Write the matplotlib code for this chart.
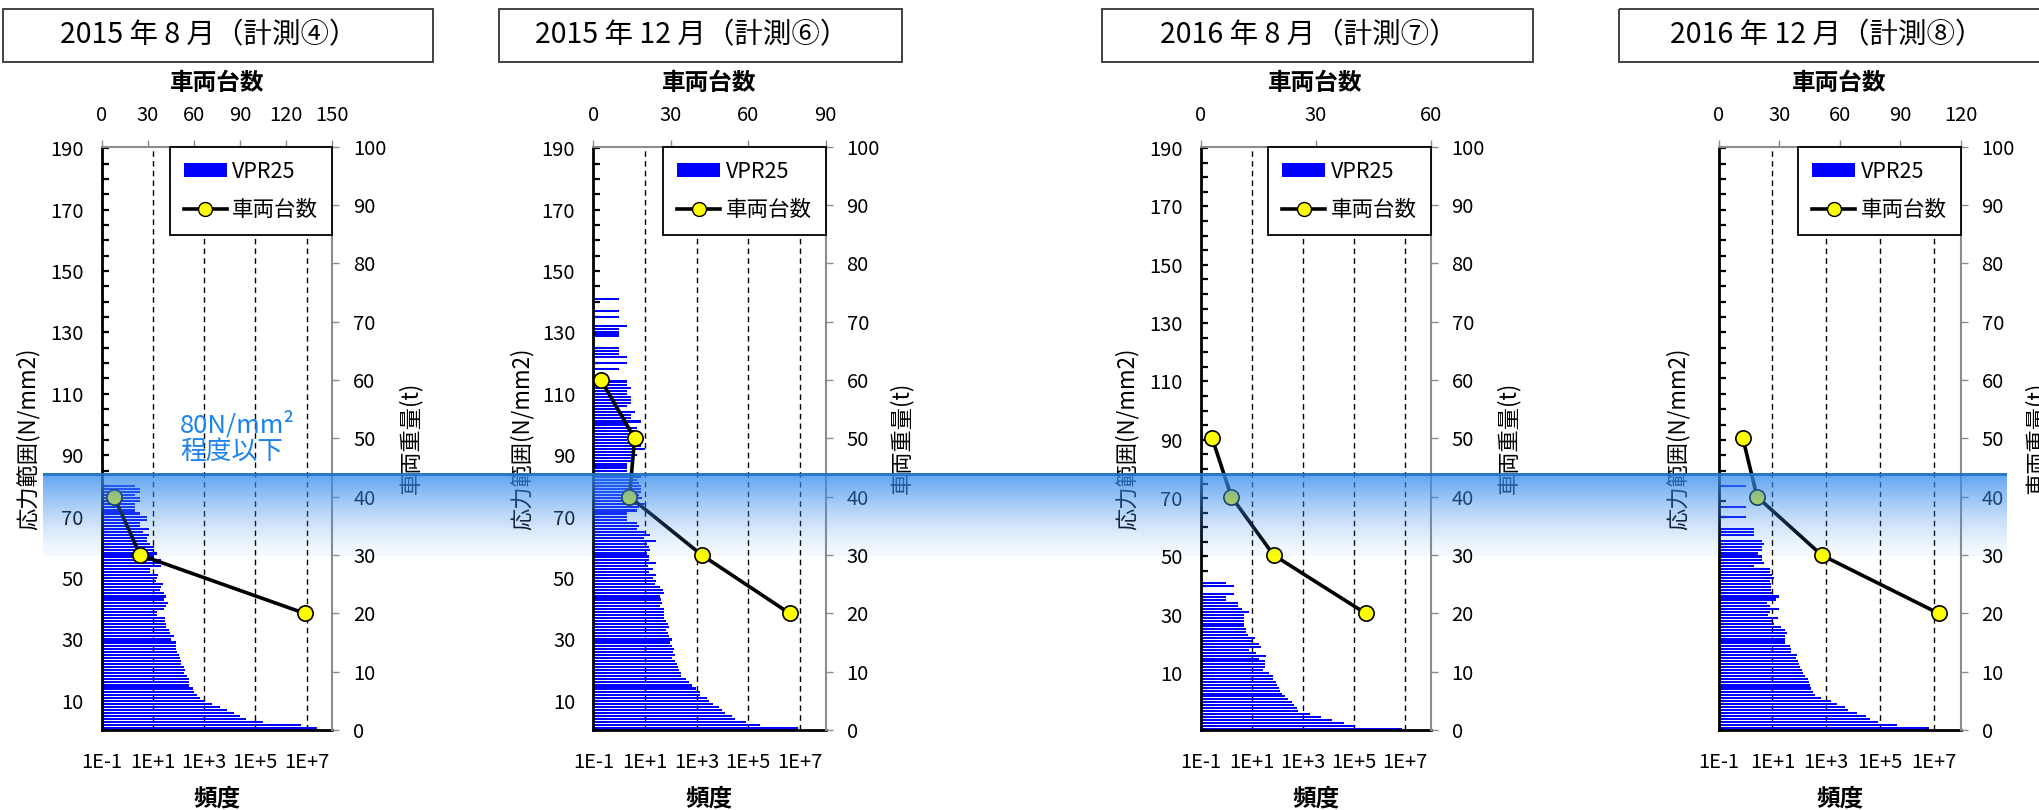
import numpy as np
import matplotlib.pyplot as plt
from matplotlib.patches import Patch, Rectangle
from matplotlib.lines import Line2D

plt.rcParams['font.family'] = ['Noto Sans CJK JP', 'DejaVu Sans']

# ---- data ----
titles = ["2015 年 8 月（計測④）", "2015 年 12 月（計測⑥）",
          "2016 年 8 月（計測⑦）", "2016 年 12 月（計測⑧）"]

# frequency per 1 N/mm2 stress class, from the bottom class upward (0 = no bar)
freq_2015_08 = [2.5e7, 5.8e6, 2.0e5, 4.1e4, 2.6e4, 1.4e4, 7600, 4000, 2000, 1100,
                660, 525, 390, 355, 245, 263, 251, 214, 158, 182,
                158, 126, 126, 117, 100, 87, 79, 83, 79, 51,
                65, 48, 44, 32, 31, 30, 30, 14, 15, 26,
                32, 40, 28, 32, 26, 19, 21, 25, 13, 14,
                16, 8, 8, 21, 21, 21, 11, 14, 11, 11,
                8, 6, 6, 7, 4, 7, 3, 3, 6, 6,
                3, 2, 2, 2, 3, 3, 2, 3, 3, 2]
freq_2015_12 = [8.5e6, 2.9e5, 7.9e4, 3.0e4, 2.3e4, 1.3e4, 9800, 7100, 4300, 3100,
                2500, 1400, 1300, 930, 650, 530, 400, 260, 250, 200,
                190, 175, 150, 115, 145, 120, 130, 115, 92, 110,
                82, 75, 66, 87, 75, 66, 53, 57, 57, 53,
                38, 47, 43, 38, 57, 50, 38, 25, 28, 21,
                27, 15, 21, 13, 26, 14, 15, 12, 16, 15,
                12, 26, 9, 16, 11, 5, 6, 5, 2, 2,
                2, 5, 6, 11, 3, 8, 6, 7, 7, 7,
                6, 5, 7, 4, 2, 2, 2, 3, 3, 5,
                4, 10, 7, 5, 2, 2, 5, 4, 5, 2,
                7, 3, 3, 4, 1, 2, 3, 3, 3, 2,
                2, 3, 2, 2, 0, 0, 0, 1, 0, 2,
                0, 2, 1, 1, 1, 0, 0, 0, 1, 1,
                1, 2, 0, 0, 1, 0, 1, 0, 0, 0,
                1]
freq_2016_08 = [7.8e6, 1.07e5, 4.0e4, 1.4e4, 4900, 1900, 660, 600, 450, 390,
                265, 195, 158, 126, 117, 93, 87, 69, 69, 48,
                28, 32, 32, 32, 19, 35, 15, 8, 23, 19,
                10, 13, 7, 6, 6, 5, 5, 5, 5, 5,
                8, 4, 3, 3, 1, 1, 2, 0, 0, 2, 1]
freq_2016_12 = [6.5e6, 4.2e5, 8.7e4, 4.3e4, 3.0e4, 1.4e4, 6300, 4800, 2600, 1500,
                620, 390, 320, 275, 240, 225, 210, 166, 135, 123,
                102, 96, 89, 76, 83, 47, 47, 43, 30, 30,
                30, 36, 30, 20, 11, 10, 16, 7, 8, 17,
                8, 6, 14, 17, 10, 9, 9, 9, 8, 11,
                10, 8, 8, 2, 5, 4, 4, 3, 4, 4,
                5, 4, 0, 2, 2, 2, 0, 0, 0, 1,
                0, 0, 1, 0, 0, 0, 0, 0, 0, 1]
freqs = [freq_2015_08, freq_2015_12, freq_2016_08, freq_2016_12]

# number of stress classes on each left axis
n_classes = [190, 190, 200, 190]

# vehicle weight (t) vs number of vehicles
weights = [[40, 30, 20], [60, 50, 40, 30, 20], [50, 40, 30, 20], [50, 40, 30, 20]]
vehicles = [[8, 25, 132], [3, 16, 14, 42, 76], [3, 8, 19, 43], [12, 19, 51, 109]]
vehicle_max = [150, 90, 60, 120]

stress_labels = [190, 170, 150, 130, 110, 90, 70, 50, 30, 10]
freq_ticks = [1e-1, 1e1, 1e3, 1e5, 1e7]
freq_labels = ["1E-1", "1E+1", "1E+3", "1E+5", "1E+7"]
weight_ticks = list(range(0, 101, 10))

# ---- layout (pixels of the 2040x810 image) ----
W, H = 2040, 810
plot_left = [101.7, 593.3, 1200.7, 1718.7]
plot_width = [230.6, 232.4, 230.0, 242.0]
plot_top, plot_bot = 146.7, 730.0
title_box = [(2.7, 433.3), (499.3, 901.7), (1102, 1533.3), (1619.3, 2050)]
title_cx = [209, 691.7, 1309, 1827]
ylab_left_x = [28, 521.7, 1126.7, 1678]
ylab_right_x = [410, 901.7, 1508, 2036.7]

fig = plt.figure(figsize=(W / 100, H / 100), dpi=100)
fig.patch.set_facecolor('white')

tick_fs = 14.5
grey = '#8c8c8c'

for i in range(4):
    rect = [plot_left[i] / W, 1 - plot_bot / H, plot_width[i] / W, (plot_bot - plot_top) / H]
    ax = fig.add_axes(rect)
    n = n_classes[i]
    f = np.array(freqs[i], dtype=float)
    pos = np.arange(1, len(f) + 1)
    keep = f > 0
    ax.barh(pos[keep], f[keep], height=0.7, color='#0000FF', linewidth=0, zorder=2)
    ax.set_xscale('log')
    ax.set_xlim(1e-1, 1e8)
    ax.set_ylim(0.5, n + 0.5)
    ax.set_xticks(freq_ticks)
    ax.set_xticklabels(freq_labels)
    ax.xaxis.set_minor_locator(plt.NullLocator())
    ax.grid(axis='x', which='major', color='black', linestyle=(0, (4, 3)), linewidth=1.0, zorder=1)
    ax.set_axisbelow(True)

    # labelled ticks every 20 classes, plain ticks every 5 classes (counted from the top)
    label_pos = [n - (190 - s) for s in stress_labels]
    ax.set_yticks(label_pos)
    if i != 3:
        ax.set_yticklabels([str(s) for s in stress_labels])
    else:
        ax.set_yticklabels([''] * len(stress_labels))
    ax.set_yticks([p for p in range(n, 0, -5) if p not in label_pos], minor=True)
    ax.tick_params(axis='y', which='both', direction='in', length=5, width=1.6, color='black')
    ax.tick_params(axis='y', which='major', labelsize=tick_fs, pad=13)
    ax.tick_params(axis='x', length=0, labelsize=tick_fs, pad=16)
    for s in ['top', 'right']:
        ax.spines[s].set_visible(False)
    for s in ['left', 'bottom']:
        ax.spines[s].set_linewidth(2.0)
        ax.spines[s].set_color('black')

    ax.text((ylab_left_x[i] - plot_left[i]) / plot_width[i], 0.5, '応力範囲(N/mm2)',
            transform=ax.transAxes, rotation=90, ha='center', va='center', fontsize=16)
    ax.text(0.5, (plot_bot - 798) / (plot_bot - plot_top), '頻度', transform=ax.transAxes,
            ha='center', va='center', fontsize=17, fontweight='bold')

    # secondary axes: number of vehicles (top) vs vehicle weight (right)
    ax2 = fig.add_axes(rect, facecolor='none')
    ax2.plot(vehicles[i], weights[i], color='black', linewidth=2.6, marker='o',
             markersize=11, markerfacecolor='#FFFF00', markeredgecolor='black',
             markeredgewidth=1.2, zorder=3, clip_on=False)
    ax2.set_xlim(0, vehicle_max[i])
    ax2.set_ylim(0, 100)
    ax2.set_xticks(list(range(0, vehicle_max[i] + 1, 30)))
    ax2.set_yticks(weight_ticks)
    ax2.xaxis.set_ticks_position('top')
    ax2.yaxis.set_ticks_position('right')
    ax2.tick_params(axis='both', direction='out', length=5, width=1.0, color=grey,
                    labelsize=tick_fs, pad=10)
    for s in ['left', 'bottom']:
        ax2.spines[s].set_visible(False)
    for s in ['top', 'right']:
        ax2.spines[s].set_color(grey)
        ax2.spines[s].set_linewidth(1.5)
    ax2.text(0.5, (plot_bot - 83) / (plot_bot - plot_top), '車両台数', transform=ax2.transAxes,
             ha='center', va='center', fontsize=17, fontweight='bold')
    ax2.text((ylab_right_x[i] - plot_left[i]) / plot_width[i], 0.5, '車両重量(t)',
             transform=ax2.transAxes, rotation=90, ha='center', va='center', fontsize=16)

    handles = [Patch(facecolor='#0000FF', edgecolor='none'),
               Line2D([], [], color='black', linewidth=2.6, marker='o', markersize=10,
                      markerfacecolor='#FFFF00', markeredgecolor='black')]
    leg = ax2.legend(handles, ['VPR25', '車両台数'], loc='upper right', bbox_to_anchor=(1, 1),
                     borderaxespad=0, fancybox=False, framealpha=1, edgecolor='black',
                     fontsize=15.5, handlelength=2.0, handleheight=0.6, labelspacing=0.75,
                     borderpad=0.65, handletextpad=0.25)
    leg.get_frame().set_linewidth(1.3)
    leg.set_zorder(5)

# overlay in pixel coordinates: title boxes, note and the highlighted band
ov = fig.add_axes([0, 0, 1, 1], facecolor='none', zorder=10)
ov.axis('off')

for i in range(4):
    x0, x1 = title_box[i]
    ov.add_patch(Rectangle((x0, 9), x1 - x0, 52.7, fill=False, edgecolor='#333333', linewidth=1.3))
    ov.text(title_cx[i], 35.5, titles[i], ha='center', va='center', fontsize=20.5)

ov.text(180, 438, '80N/mm²\n程度以下', ha='left', va='center', fontsize=18.5,
        color='#1C82EC', linespacing=1.05)

# blue band across the figure, dark edge on top fading downwards
band_h = 84
alpha = np.concatenate([np.full(3, 0.95), 0.72 * np.linspace(1, 0, band_h - 3) ** 1.4 + 0.05])
rgb = np.tile(np.array([0.22, 0.55, 0.93]), (band_h, 1))
rgb[:3] = [0.12, 0.45, 0.78]
band = np.dstack([rgb.reshape(band_h, 1, 3).repeat(2, axis=1),
                  alpha.reshape(band_h, 1, 1).repeat(2, axis=1)])
ov.imshow(band, extent=(43, 2007, 556, 473), aspect='auto', interpolation='bilinear', zorder=10)
ov.set_xlim(0, W)
ov.set_ylim(H, 0)

fig.savefig('out.png', dpi=100)
